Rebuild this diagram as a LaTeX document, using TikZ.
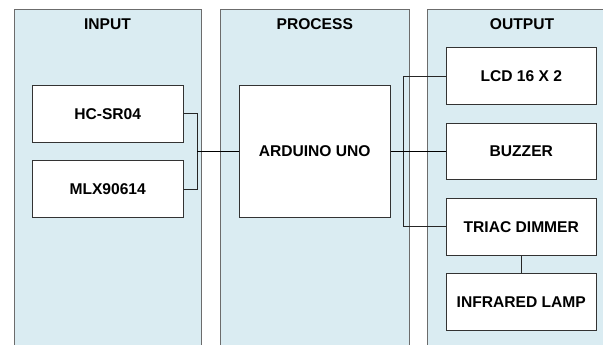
\documentclass[tikz,border=0pt]{standalone}
\usepackage{fontspec}
\setmainfont{Liberation Sans}
\begin{document}
\begin{tikzpicture}[x=1pt,y=-1pt,
  panel/.style={draw=gray!85!black, fill=panelblue, line width=0.9pt},
  blk/.style={draw=gray!40!black, fill=white, line width=0.9pt, minimum width=150.7pt, inner sep=0pt, font=\fontsize{15.6}{17}\selectfont\bfseries},
  ttl/.style={font=\fontsize{15.6}{17}\selectfont\bfseries, inner sep=0pt},
  wire/.style={draw=gray!30!black, line width=0.8pt}]
\definecolor{panelblue}{HTML}{DAECF2}
\useasboundingbox (0,0) rectangle (603,345);
\clip (0,0) rectangle (603,345);
\fill[white] (0,0) rectangle (603,345);
\path[panel] (14,9.5) rectangle (201,360);
\path[panel] (220.7,9.5) rectangle (409,360);
\path[panel] (427.7,9.5) rectangle (620,360);
\node[ttl] (tin) at (107.5,24) {INPUT};
\node[ttl] (tpr) at (314.8,24) {PROCESS};
\node[ttl] (tout) at (522,24) {OUTPUT};
\node[blk, minimum height=56.7pt] (hc) at (107.7,113.7) {HC-SR04};
\node[blk, minimum height=56.7pt] (mlx) at (107.7,189) {MLX90614};
\node[blk, minimum height=132pt] (ard) at (314.7,151.3) {ARDUINO UNO};
\node[blk, minimum height=56.7pt] (lcd) at (521.3,76) {LCD 16 X 2};
\node[blk, minimum height=56.7pt] (buz) at (521.3,151.3) {BUZZER};
\node[blk, minimum height=56.7pt] (tri) at (521.3,226.7) {TRIAC DIMMER};
\node[blk, minimum height=56.7pt] (lamp) at (521.3,301.7) {INFRARED LAMP};
\coordinate (jin) at (197.3,151.3);
\coordinate (jout) at (403.5,151.3);
\draw[wire] (hc.east) -| (jin) |- (mlx.east);
\draw[wire, draw=black] (jin) -- (ard.west);
\draw[wire] (lcd.west) -| (jout) |- (tri.west);
\draw[wire, draw=black] (ard.east) -- (buz.west);
\draw[wire] (tri.south) -- (lamp.north);
\end{tikzpicture}
\end{document}
